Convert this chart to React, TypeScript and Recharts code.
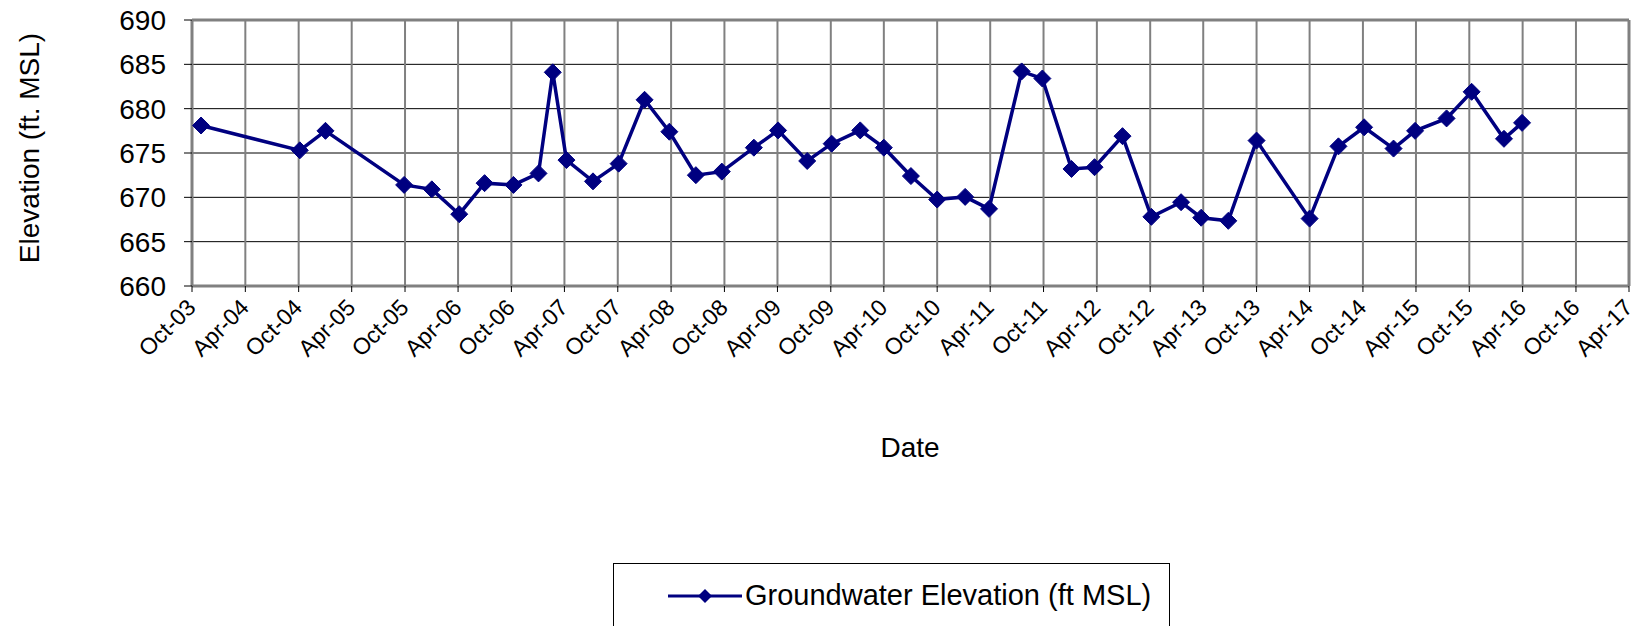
import React from "react";
import { LineChart, Line, XAxis, YAxis, CartesianGrid, ReferenceLine } from "recharts";

const sampleDates = [
  "2003-11-01", "2004-10-05", "2005-01-01", "2005-09-28", "2006-01-01", "2006-04-05",
  "2006-07-01", "2006-10-08", "2007-01-02", "2007-02-20", "2007-04-08", "2007-07-08",
  "2007-10-04", "2008-01-01", "2008-03-26", "2008-06-25", "2008-09-22", "2009-01-10",
  "2009-04-03", "2009-07-12", "2009-10-04", "2010-01-10", "2010-04-01", "2010-07-03",
  "2010-10-01", "2011-01-05", "2011-03-28", "2011-07-18", "2011-09-27", "2012-01-05",
  "2012-03-24", "2012-06-28", "2012-10-05", "2013-01-15", "2013-03-25", "2013-06-26",
  "2013-10-01", "2014-04-01", "2014-07-09", "2014-10-05", "2015-01-14", "2015-03-29",
  "2015-07-15", "2015-10-09", "2016-01-28", "2016-03-30",
];

const elevations = [
  678.1, 675.3, 677.5, 671.4, 670.9, 668.1,
  671.6, 671.4, 672.7, 684.1, 674.2, 671.8,
  673.8, 681.0, 677.4, 672.5, 672.9, 675.6,
  677.55, 674.1, 676.05, 677.55, 675.6, 672.4,
  669.75, 670.05, 668.7, 684.2, 683.4, 673.2,
  673.4, 676.9, 667.8, 669.45, 667.7, 667.35,
  676.4, 667.6, 675.75, 677.9, 675.5, 677.5,
  678.9, 681.9, 676.6, 678.4,
];

const xTickLabels = [
  "Oct-03", "Apr-04", "Oct-04", "Apr-05", "Oct-05", "Apr-06", "Oct-06", "Apr-07",
  "Oct-07", "Apr-08", "Oct-08", "Apr-09", "Oct-09", "Apr-10", "Oct-10", "Apr-11",
  "Oct-11", "Apr-12", "Oct-12", "Apr-13", "Oct-13", "Apr-14", "Oct-14", "Apr-15",
  "Oct-15", "Apr-16", "Oct-16", "Apr-17",
];

const yTicks = [660, 665, 670, 675, 680, 685, 690];

const seriesName = "Groundwater Elevation (ft MSL)";
const yAxisTitle = "Elevation (ft. MSL)";
const xAxisTitle = "Date";

const MONTHS: Record<string, number> = { Jan: 0, Feb: 1, Mar: 2, Apr: 3, May: 4, Jun: 5, Jul: 6, Aug: 7, Sep: 8, Oct: 9, Nov: 10, Dec: 11 };
const labelToTime = (l: string) => {
  const [m, y] = l.split("-");
  return Date.UTC(2000 + Number(y), MONTHS[m], 1);
};
const xTicks = xTickLabels.map(labelToTime);
const tickLabelByTime: Record<number, string> = {};
xTicks.forEach((t, i) => (tickLabelByTime[t] = xTickLabels[i]));

const data = sampleDates.map((d, i) => {
  const [y, m, day] = d.split("-").map(Number);
  return { t: Date.UTC(y, m - 1, day), v: elevations[i] };
});

const FONT = "'Liberation Sans', Arial, sans-serif";
const NAVY = "#000080";
const W = 1643;
const H = 626;

const Diamond = (props: any) => {
  const { cx, cy } = props;
  if (cx == null || cy == null) return null;
  const r = 8.5;
  return (
    <polygon
      points={`${cx},${cy - r} ${cx + r},${cy} ${cx},${cy + r} ${cx - r},${cy}`}
      fill={NAVY}
      stroke={NAVY}
      strokeWidth={1}
    />
  );
};

const XTick = (props: any) => {
  const { x, y, payload } = props;
  const lx = x + 5;
  const ly = y + 15;
  return (
    <text
      x={lx}
      y={ly}
      transform={`rotate(-45 ${lx} ${ly})`}
      textAnchor="end"
      fontFamily={FONT}
      fontSize={23}
      fill="#000"
    >
      {tickLabelByTime[payload.value]}
    </text>
  );
};

export default function App() {
  return (
    <div style={{ position: "relative", width: W, height: H, margin: "-8px 0 0 -8px", fontFamily: FONT }}>
      <LineChart
        width={W}
        height={H}
        data={data}
        margin={{ top: 20, right: 14, bottom: 0, left: 0 }}
      >
        <CartesianGrid vertical={false} stroke="#000" strokeWidth={1} />
        <CartesianGrid horizontal={false} stroke="#808080" strokeWidth={2} />
        <XAxis
          dataKey="t"
          type="number"
          scale="linear"
          domain={[xTicks[0], xTicks[xTicks.length - 1]]}
          ticks={xTicks}
          interval={0}
          height={340}
          axisLine={{ stroke: "#808080", strokeWidth: 3 }}
          tickLine={{ stroke: "#000", strokeWidth: 1 }}
          tickSize={6}
          tick={<XTick />}
          allowDataOverflow
          label={{
            content: () => (
              <text
                x={910}
                y={457}
                textAnchor="middle"
                fontFamily={FONT}
                fontSize={28}
                fill="#000"
              >
                {xAxisTitle}
              </text>
            ),
          }}
        />
        <YAxis
          type="number"
          domain={[660, 690]}
          ticks={yTicks}
          interval={0}
          width={192}
          axisLine={{ stroke: "#808080", strokeWidth: 3 }}
          tickLine={{ stroke: "#000", strokeWidth: 1 }}
          tickSize={8}
          tickMargin={18}
          tick={{ fill: "#000", fontSize: 28, fontFamily: FONT }}
          allowDataOverflow
          label={{
            content: () => {
              const cx = 39;
              const cy = 148;
              return (
                <text
                  x={cx}
                  y={cy}
                  transform={`rotate(-90 ${cx} ${cy})`}
                  textAnchor="middle"
                  fontFamily={FONT}
                  fontSize={28}
                  fill="#000"
                >
                  {yAxisTitle}
                </text>
              );
            },
          }}
        />
        <ReferenceLine y={690} stroke="#808080" strokeWidth={3} />
        <ReferenceLine x={xTicks[xTicks.length - 1]} stroke="#808080" strokeWidth={3} />
        <Line
          type="linear"
          dataKey="v"
          name={seriesName}
          stroke={NAVY}
          strokeWidth={3.5}
          dot={<Diamond />}
          activeDot={false}
          isAnimationActive={false}
        />
      </LineChart>
      <div
        style={{
          position: "absolute",
          left: 613,
          top: 563,
          width: 557,
          height: 70,
          border: "1px solid #000",
          boxSizing: "border-box",
          background: "#fff",
        }}
      >
        <svg width={80} height={20} style={{ position: "absolute", left: 52, top: 22 }}>
          <line x1={2} y1={10} x2={76} y2={10} stroke={NAVY} strokeWidth={3} />
          <polygon points="39,3 46,10 39,17 32,10" fill={NAVY} />
        </svg>
        <div
          style={{
            position: "absolute",
            left: 131,
            top: 15,
            fontSize: 29,
            lineHeight: "32px",
            fontFamily: FONT,
            color: "#000",
            whiteSpace: "nowrap",
          }}
        >
          {seriesName}
        </div>
      </div>
    </div>
  );
}
